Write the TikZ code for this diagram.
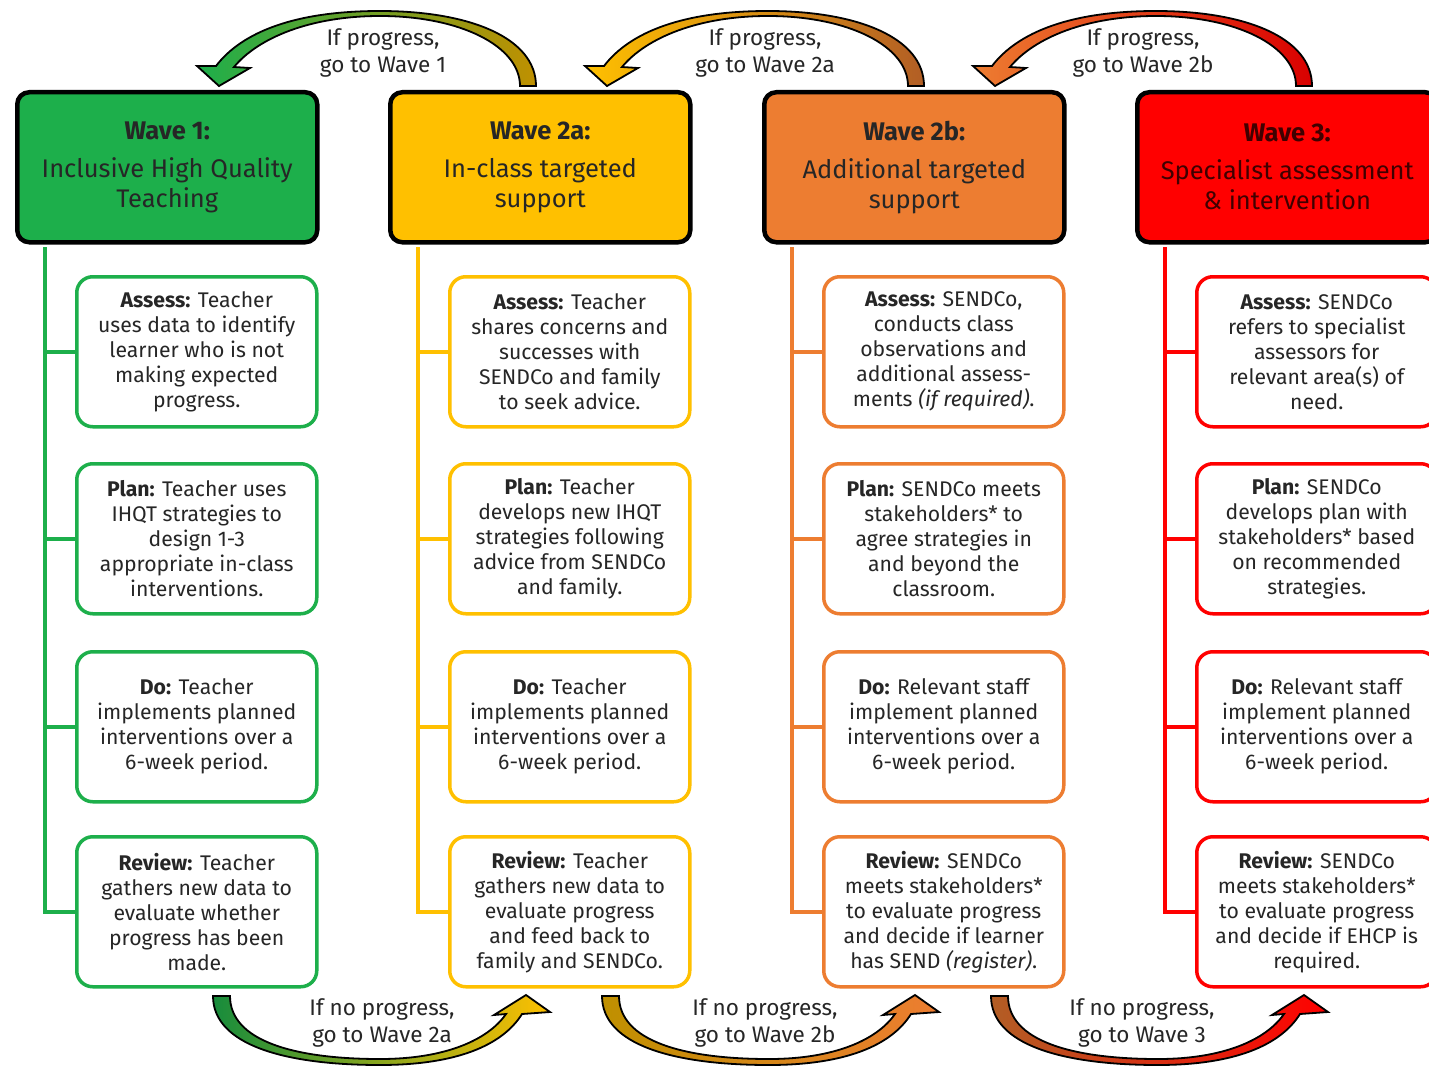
\documentclass[tikz,border=0pt]{standalone}
\usepackage{fontspec}
\setmainfont{Fira Sans}
\usepackage{tikz}
\usetikzlibrary{calc}

\definecolor{wgreen}{HTML}{1DAF4B}
\definecolor{wyellow}{HTML}{FFC000}
\definecolor{worange}{HTML}{ED7D31}
\definecolor{wred}{HTML}{FF0000}

\begin{document}
\begin{tikzpicture}[x=1pt,y=-1pt,
  wave/.style={draw=black,line width=4.5pt,rounded corners=12pt,fill=#1,
    minimum width=300pt,minimum height=150pt,anchor=north west,align=center,
    font=\fontsize{25.5}{30}\selectfont,text=black!85},
  stage/.style={draw=#1,line width=3.5pt,rounded corners=16pt,fill=white,
    minimum width=240pt,minimum height=150pt,anchor=north west,align=center,
    font=\fontsize{21.2}{25}\selectfont,text=black!85},
  stem/.style={draw=#1,line width=3.5pt},
  note/.style={align=center,font=\fontsize{22.5}{27}\selectfont,text=black!85}]

\useasboundingbox (0,0) rectangle (1429,1070);
\fill[white] (0,0) rectangle (1429,1070);
\clip (0,0) rectangle (1429,1070);

\def\lwswoosh{1.8pt}

% swoosh going back one wave (top), #1 shift, #2 head colour, #3 tail colour
\def\topswoosh#1#2#3{%
\begin{scope}[xshift=#1pt]
\shadedraw[draw=black,line width=\lwswoosh,left color=#2,middle color=black,right color=#3]
  (520,86) -- (536,86) .. controls (536,38) and (470,11) .. (380,11)
  .. controls (295,11) and (242,32) .. (216,66) -- (197,66) -- (219,86) -- (250,68) -- (234,67)
  .. controls (258,38) and (310,16) .. (380,16) .. controls (460,16) and (520,46) .. (520,86) -- cycle;
\end{scope}}

% swoosh going on one wave (bottom), #1 shift, #2 tail colour, #3 head colour
\def\lowswoosh#1#2#3{%
\begin{scope}[xshift=#1pt]
\shadedraw[draw=black,line width=\lwswoosh,left color=#2,middle color=black,right color=#3]
  (230,996) .. controls (230,1040) and (292,1059) .. (380,1059)
  .. controls (445,1059) and (488,1040) .. (506,1014) -- (494,1015) -- (526,995) -- (550,1012) -- (522,1014)
  .. controls (502,1046) and (455,1065) .. (380,1065) .. controls (285,1065) and (213,1045) .. (213,996) -- cycle;
\end{scope}}

% Wave 1
\node[wave=wgreen] (w1) at (15,90) {\textbf{Wave 1:}\\[8pt]Inclusive High Quality\\Teaching};
\node[stage=wgreen] (w1-1) at (75,275) {\textbf{Assess:} Teacher\\uses data to identify\\learner who is not\\making expected\\progress.};
\node[stage=wgreen] (w1-2) at (75,462) {\textbf{Plan:} Teacher uses\\IHQT strategies to\\design 1-3\\appropriate in-class\\interventions.};
\node[stage=wgreen] (w1-3) at (75,650) {\textbf{Do:} Teacher\\implements planned\\interventions over a\\6-week period.};
\node[stage=wgreen] (w1-4) at (75,835) {\textbf{Review:} Teacher\\gathers new data to\\evaluate whether\\progress has been\\made.};

% Wave 2a
\node[wave=wyellow] (w2a) at (388,90) {\textbf{Wave 2a:}\\[8pt]In-class targeted\\support};
\node[stage=wyellow] (w2a-1) at (448,275) {\textbf{Assess:} Teacher\\shares concerns and\\successes with\\SENDCo and family\\to seek advice.};
\node[stage=wyellow] (w2a-2) at (448,462) {\textbf{Plan:} Teacher\\develops new IHQT\\strategies following\\advice from SENDCo\\and family.};
\node[stage=wyellow] (w2a-3) at (448,650) {\textbf{Do:} Teacher\\implements planned\\interventions over a\\6-week period.};
\node[stage=wyellow] (w2a-4) at (448,835) {\textbf{Review:} Teacher\\gathers new data to\\evaluate progress\\and feed back to\\family and SENDCo.};

% Wave 2b
\node[wave=worange] (w2b) at (762,90) {\textbf{Wave 2b:}\\[8pt]Additional targeted\\support};
\node[stage=worange] (w2b-1) at (822,275) {\textbf{Assess:} SENDCo,\\conducts class\\observations and\\additional assess-\\ments \textit{(if required)}.};
\node[stage=worange] (w2b-2) at (822,462) {\textbf{Plan:} SENDCo meets\\stakeholders* to\\agree strategies in\\and beyond the\\classroom.};
\node[stage=worange] (w2b-3) at (822,650) {\textbf{Do:} Relevant staff\\implement planned\\interventions over a\\6-week period.};
\node[stage=worange] (w2b-4) at (822,835) {\textbf{Review:} SENDCo\\meets stakeholders*\\to evaluate progress\\and decide if learner\\has SEND \textit{(register)}.};

% Wave 3
\node[wave=wred,text=wred!25!black] (w3) at (1135,90) {\textbf{Wave 3:}\\[8pt]Specialist assessment\\\& intervention};
\node[stage=wred] (w3-1) at (1195,275) {\textbf{Assess:} SENDCo\\refers to specialist\\assessors for\\relevant area(s) of\\need.};
\node[stage=wred] (w3-2) at (1195,462) {\textbf{Plan:} SENDCo\\develops plan with\\stakeholders* based\\on recommended\\strategies.};
\node[stage=wred] (w3-3) at (1195,650) {\textbf{Do:} Relevant staff\\implement planned\\interventions over a\\6-week period.};
\node[stage=wred] (w3-4) at (1195,835) {\textbf{Review:} SENDCo\\meets stakeholders*\\to evaluate progress\\and decide if EHCP is\\required.};

% stems from each wave down to its four stages
\foreach \w/\c in {1/wgreen,2a/wyellow,2b/worange,3/wred}{
  \coordinate (s\w) at ($(w\w.south west)+(30,2.5)$);
  \draw[stem=\c] (s\w) |- (w\w-4.west);
  \foreach \k in {1,2,3}
    \draw[stem=\c] (s\w |- w\w-\k.west) -- (w\w-\k.west);
}

% back to the previous wave
\topswoosh{0}{wgreen}{wyellow!75!black}
\topswoosh{388}{wyellow}{worange!75!black}
\topswoosh{776}{worange}{wred!85!black}
\node[note] (p1) at (383,53) {If progress,\\go to Wave 1};
\node[note] (p2a) at (765,53) {If progress,\\go to Wave 2a};
\node[note] (p2b) at (1143,53) {If progress,\\go to Wave 2b};

% on to the next wave
\lowswoosh{0}{wgreen!80!black}{wyellow}
\lowswoosh{389}{wyellow!75!black}{worange}
\lowswoosh{778}{worange!75!black}{wred}
\node[note] (n2a) at (382,1023) {If no progress,\\go to Wave 2a};
\node[note] (n2b) at (765,1023) {If no progress,\\go to Wave 2b};
\node[note] (n3) at (1142,1023) {If no progress,\\go to Wave 3};

\end{tikzpicture}
\end{document}
